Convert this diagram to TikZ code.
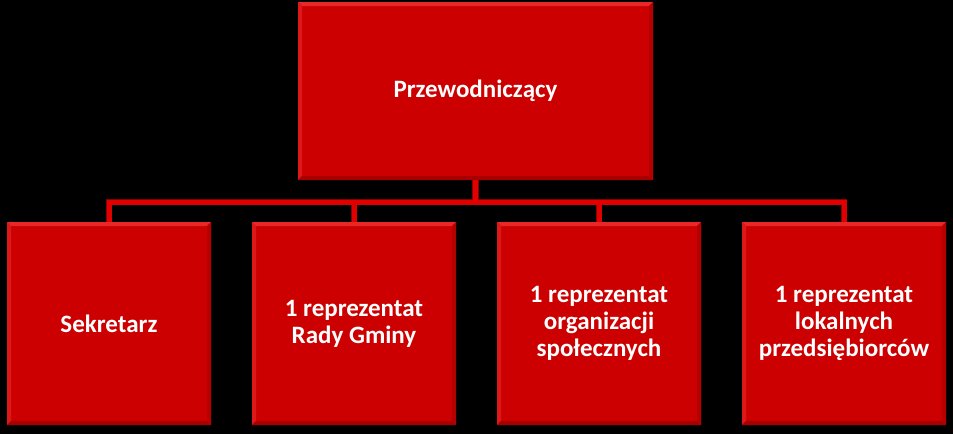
\documentclass[tikz,border=0pt]{standalone}
\usepackage{fontspec}
\setmainfont{Carlito}
\usetikzlibrary{calc}

\definecolor{boxRed}{HTML}{CC0000}
\definecolor{bevelLight}{HTML}{E82828}
\definecolor{bevelDark}{HTML}{A80000}
\definecolor{lineRed}{HTML}{E00000}
\definecolor{lineDark}{HTML}{8A0000}

\def\bevelSize{4pt}

\begin{document}
\begin{tikzpicture}[x=1pt,y=-1pt,
        orgbox/.style={fill=boxRed, inner sep=0pt, align=center, text=white,
            font=\fontsize{25}{27}\selectfont\bfseries,
            path picture={
                \fill [bevelLight] (path picture bounding box.north west) -- (path picture bounding box.north east)
                    -- ++(-\bevelSize,-\bevelSize) -- ($(path picture bounding box.north west)+(\bevelSize,-\bevelSize)$) -- cycle;
                \fill [bevelLight!60!boxRed] (path picture bounding box.north west) -- (path picture bounding box.south west)
                    -- ++(\bevelSize,\bevelSize) -- ($(path picture bounding box.north west)+(\bevelSize,-\bevelSize)$) -- cycle;
                \fill [bevelDark] (path picture bounding box.south west) -- (path picture bounding box.south east)
                    -- ++(-\bevelSize,\bevelSize) -- ($(path picture bounding box.south west)+(\bevelSize,\bevelSize)$) -- cycle;
                \fill [bevelDark!60!boxRed] (path picture bounding box.north east) -- (path picture bounding box.south east)
                    -- ++(-\bevelSize,\bevelSize) -- ($(path picture bounding box.north east)+(-\bevelSize,-\bevelSize)$) -- cycle;
            }},
        connector/.style={line width=5pt, draw=lineRed}]

    % black background, fixes the size
    \fill [black] (0,0) rectangle (953,434);
    \useasboundingbox (0,0) rectangle (953,434);

    \node [orgbox, minimum width=355pt, minimum height=178pt] (chair) at (475.5,91) {Przewodniczący};

    \begin{scope}[every node/.style={orgbox, minimum width=204pt, minimum height=203pt}]
        \node (secretary) at (109,323.5) {Sekretarz};
        \node (council)   at (354,323.5) {1 reprezentat\\Rady Gminy};
        \node (social)    at (599,323.5) {1 reprezentat\\organizacji\\społecznych};
        \node (business)  at (844,323.5) {1 reprezentat\\lokalnych\\przedsiębiorców};
    \end{scope}

    \coordinate (bus) at ($(chair.south)+(0,22)$);

    \foreach \member in {secretary,council,social,business}{%
            \draw [connector, draw=lineDark, line width=6.5pt] (chair.south) -- (bus) -| (\member.north);
        }
    \foreach \member in {secretary,council,social,business}{%
            \draw [connector] (chair.south) -- (bus) -| (\member.north);
        }

\end{tikzpicture}
\end{document}
